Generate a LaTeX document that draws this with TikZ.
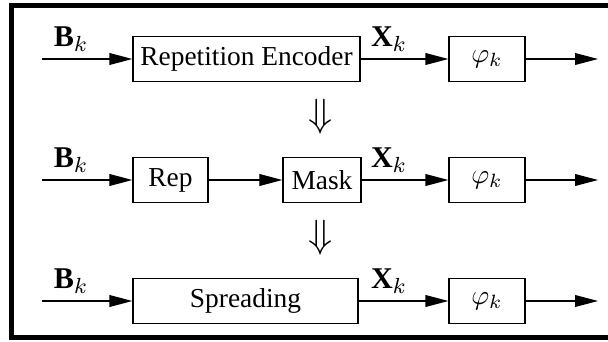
\documentclass[tikz,border=0pt]{standalone}
\usepackage{fontspec}
\setmainfont{Liberation Serif}
\usetikzlibrary{arrows.meta}
\begin{document}
\begin{tikzpicture}[x=0.365pt,y=-0.365pt,
  blk/.style={draw,line width=0.45pt,minimum height=45*0.365pt,inner sep=0pt},
  sig/.style={line width=0.45pt,-{Triangle[length=8.4pt,width=4.3pt]}},
  lbl/.style={inner sep=0pt,font=\fontsize{11pt}{12pt}\selectfont},
  implies/.style={inner sep=0pt,font=\fontsize{13.5pt}{14pt}\selectfont}]
\useasboundingbox (0,0) rectangle (608,341);
% open frame (left, top and bottom sides)
\draw[line width=1.85pt,line join=miter] (608,5.5) -- (11.5,5.5) -- (11.5,337.5) -- (608,337.5);

% row 1: repetition encoder
\coordinate (in1) at (42,59);
\node[blk,minimum width=227*0.365pt] (enc) at (246.5,59) {Repetition Encoder};
\node[blk,minimum width=76*0.365pt] (phi1) at (487,59) {$\varphi_k$};
\coordinate (out1) at (598,59);
\draw[sig] (in1) -- (enc);
\draw[sig] (enc) -- (phi1);
\draw[sig] (phi1) -- (out1);
\node[lbl] (b1) at (71,39) {$\mathbf{B}_k$};
\node[lbl] (x1) at (389,39) {$\mathbf{X}_k$};

\node[implies] (d1) at (321,117) {$\Downarrow$};

% row 2: repetition followed by masking
\coordinate (in2) at (42,180);
\node[blk,minimum width=75*0.365pt] (rep) at (170.5,180) {Rep};
\node[blk,minimum width=78*0.365pt] (mask) at (322,180) {Mask};
\node[blk,minimum width=76*0.365pt] (phi2) at (487,180) {$\varphi_k$};
\coordinate (out2) at (598,180);
\draw[sig] (in2) -- (rep);
\draw[sig] (rep) -- (mask);
\draw[sig] (mask) -- (phi2);
\draw[sig] (phi2) -- (out2);
\node[lbl] (b2) at (71,160) {$\mathbf{B}_k$};
\node[lbl] (x2) at (389,160) {$\mathbf{X}_k$};

\node[implies] (d2) at (321,238) {$\Downarrow$};

% row 3: spreading
\coordinate (in3) at (42,301);
\node[blk,minimum width=225*0.365pt] (spr) at (245.5,301) {Spreading};
\node[blk,minimum width=76*0.365pt] (phi3) at (487,301) {$\varphi_k$};
\coordinate (out3) at (598,301);
\draw[sig] (in3) -- (spr);
\draw[sig] (spr) -- (phi3);
\draw[sig] (phi3) -- (out3);
\node[lbl] (b3) at (71,281) {$\mathbf{B}_k$};
\node[lbl] (x3) at (389,281) {$\mathbf{X}_k$};
\end{tikzpicture}
\end{document}
